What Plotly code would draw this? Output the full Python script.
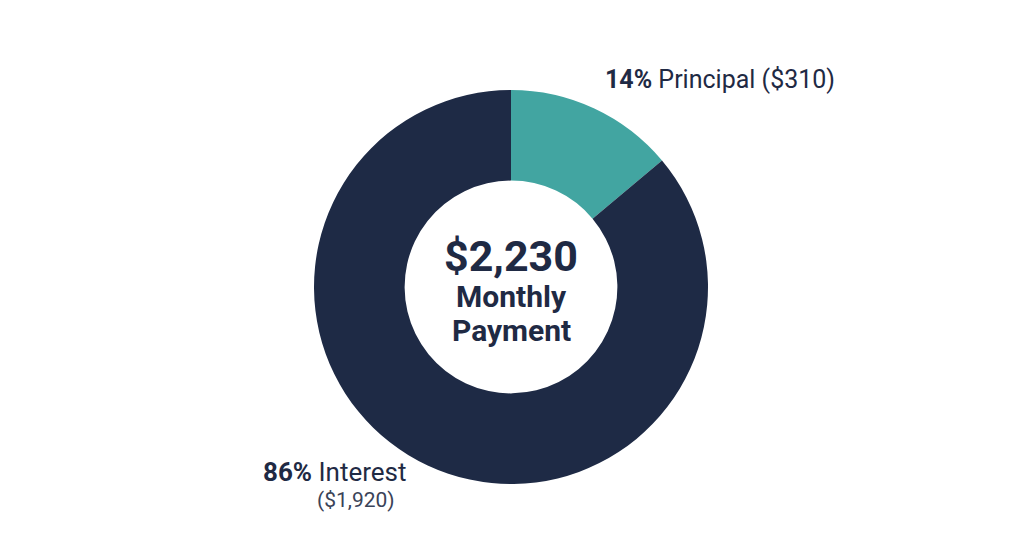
import plotly.graph_objects as go

# monthly payment split
labels = ['Principal', 'Interest']
amounts = [310, 1920]
percents = ['14%', '86%']
colors = ['#42a5a1', '#1e2a45']
total = 2230

W, H = 1024, 559
OFF = 8  # page body margin
text_color = '#1f2a44'

# donut placement in pixels (center + radius)
cx, cy, r = 511, 287, 197


def px(x, y):
    # pixel -> paper coords
    return (x - OFF) / W, 1 - (y - OFF) / H


fig = go.Figure()
x0, y0 = px(cx - r, cy + r)
x1, y1 = px(cx + r, cy - r)
fig.add_trace(go.Pie(
    labels=labels,
    values=amounts,
    hole=0.54,
    sort=False,
    direction='clockwise',
    rotation=0,
    marker=dict(colors=colors, line=dict(width=0)),
    textinfo='none',
    hoverinfo='skip',
    showlegend=False,
    domain=dict(x=[x0, x1], y=[y0, y1]),
))

ann = []
# center text
x, y = px(cx, 256)
ann.append(dict(x=x, y=y, text='<b>$%s</b>' % format(total, ','),
                font=dict(size=43, color=text_color)))
x, y = px(cx, 297)
ann.append(dict(x=x, y=y, text='<b>Monthly</b>', font=dict(size=30, color=text_color)))
x, y = px(cx, 330)
ann.append(dict(x=x, y=y, text='<b>Payment</b>', font=dict(size=30, color=text_color)))

# outside labels
x, y = px(603, 79)
ann.append(dict(x=x, y=y, xanchor='left',
                text='<b>%s</b> %s ($%s)' % (percents[0], labels[0], format(amounts[0], ',')),
                font=dict(size=25, color=text_color)))
x, y = px(261, 472)
ann.append(dict(x=x, y=y, xanchor='left',
                text='<b>%s</b> %s' % (percents[1], labels[1]),
                font=dict(size=26, color=text_color)))
x, y = px(315, 500)
ann.append(dict(x=x, y=y, xanchor='left',
                text='($%s)' % format(amounts[1], ','),
                font=dict(size=21, color='#3a4358')))

for a in ann:
    a.update(xref='paper', yref='paper', showarrow=False)
    a.setdefault('xanchor', 'center')
    a['yanchor'] = 'middle'

fig.update_layout(
    width=W, height=H,
    margin=dict(l=0, r=0, t=0, b=0),
    paper_bgcolor='white',
    plot_bgcolor='white',
    font=dict(family='Roboto'),
    annotations=ann,
)
fig.write_html("out.html")
